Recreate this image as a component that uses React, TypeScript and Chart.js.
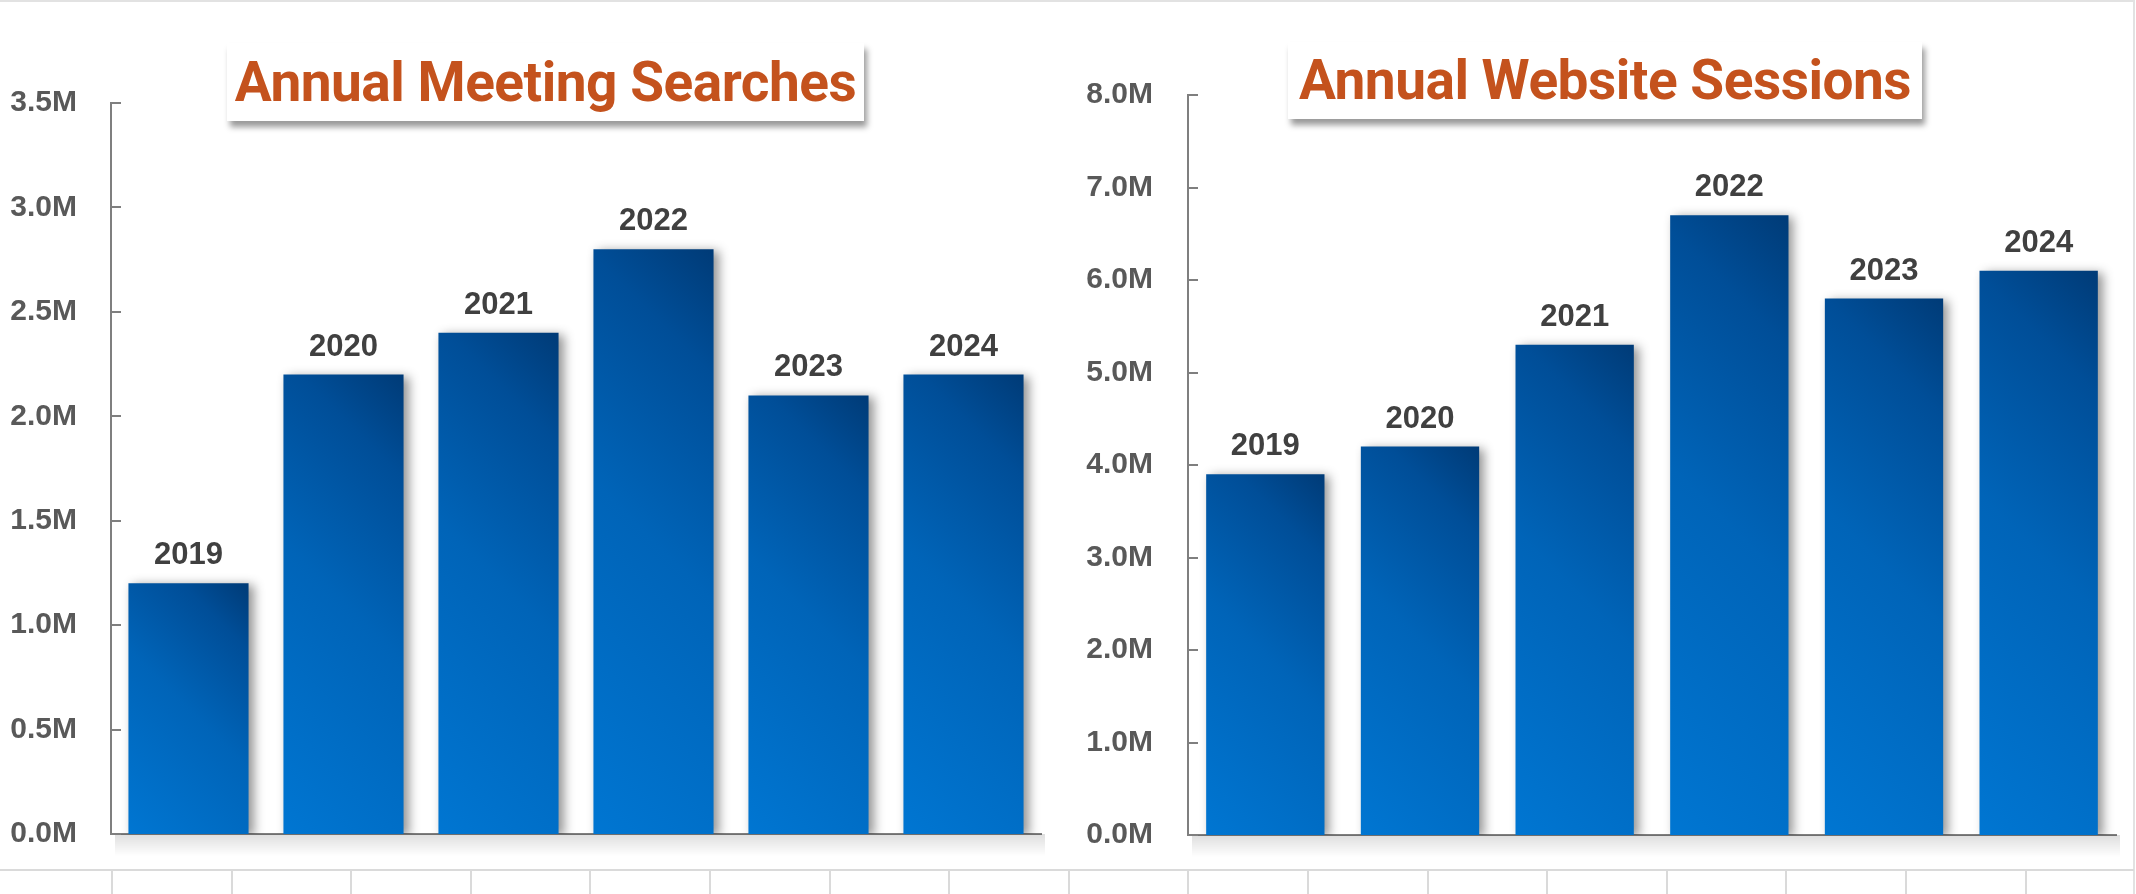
import React, { useEffect, useRef } from 'react';
import { Chart, registerables } from 'chart.js';

Chart.register(...registerables);

// ---------- data ----------
const years = ['2019', '2020', '2021', '2022', '2023', '2024'];
const meetingSearches = [1200000, 2200000, 2400000, 2800000, 2100000, 2200000];
const websiteSessions = [3900000, 4200000, 5300000, 6700000, 5800000, 6100000];
const meetingTickValues = [0, 500000, 1000000, 1500000, 2000000, 2500000, 3000000, 3500000];
const sessionTickValues = [0, 1000000, 2000000, 3000000, 4000000, 5000000, 6000000, 7000000, 8000000];
const meetingTitle = 'Annual Meeting Searches';
const sessionTitle = 'Annual Website Sessions';

const LABEL_FONT = '"Liberation Sans", Arial, Helvetica, sans-serif';
const TITLE_FONT = 'Roboto, "Liberation Sans", Arial, sans-serif';

type ChartSpec = {
  labels: string[];
  values: number[];
  tickValues: number[];
  width: number;
  height: number;
  yWidth: number;
  padTop: number;
  padRight: number;
  padBottom: number;
  barPct: number;
  tickPad: number;
};

const fmtM = (v: number) => (v / 1000000).toFixed(1) + 'M';

function barGradient(ctx: any, spec: ChartSpec) {
  const chart = ctx.chart;
  const { chartArea, scales } = chart;
  if (!chartArea || ctx.type !== 'data' || !scales.x || !scales.y) return '#0063B5';
  const xs = scales.x;
  const ys = scales.y;
  const cx = xs.getPixelForValue(ctx.dataIndex);
  const w = (xs.width / spec.labels.length) * spec.barPct;
  const x0 = cx - w / 2;
  const yBase = ys.getPixelForValue(0);
  const yTop = ys.getPixelForValue(ctx.raw);
  const h = yBase - yTop;
  const d = (w + h) / 2;
  const g = chart.ctx.createLinearGradient(x0, yBase, x0 + d, yBase - d);
  g.addColorStop(0, '#0076D2');
  g.addColorStop(0.5, '#0064B8');
  g.addColorStop(0.82, '#004E98');
  g.addColorStop(1, '#003B77');
  return g;
}

const decorPlugin = {
  id: 'decor',
  beforeDatasetsDraw(chart: any) {
    const { ctx, chartArea } = chart;
    const g = ctx.createLinearGradient(0, chartArea.bottom, 0, chartArea.bottom + 22);
    g.addColorStop(0, 'rgba(0,0,0,0.13)');
    g.addColorStop(1, 'rgba(0,0,0,0)');
    ctx.save();
    ctx.fillStyle = g;
    ctx.fillRect(chartArea.left + 4, chartArea.bottom, chartArea.right - chartArea.left, 22);
    ctx.restore();
    ctx.save();
    ctx.shadowColor = 'rgba(0,0,0,0.42)';
    ctx.shadowBlur = 10;
    ctx.shadowOffsetX = 5;
    ctx.shadowOffsetY = 2;
  },
  afterDatasetsDraw(chart: any) {
    const { ctx } = chart;
    ctx.restore();
    const meta = chart.getDatasetMeta(0);
    const labels = chart.data.labels as string[];
    ctx.save();
    ctx.font = `bold 31px ${LABEL_FONT}`;
    ctx.fillStyle = '#404040';
    ctx.textAlign = 'center';
    ctx.textBaseline = 'alphabetic';
    meta.data.forEach((bar: any, i: number) => {
      ctx.fillText(labels[i], bar.x, bar.y - 19);
    });
    ctx.restore();
  },
  afterDraw(chart: any) {
    const { ctx, chartArea } = chart;
    const ys = chart.scales.y;
    ctx.save();
    ctx.strokeStyle = '#7F7F7F';
    ctx.lineWidth = 2;
    ys.ticks.forEach((t: any) => {
      const y = Math.round(ys.getPixelForValue(t.value));
      ctx.beginPath();
      ctx.moveTo(chartArea.left, y);
      ctx.lineTo(chartArea.left + 10, y);
      ctx.stroke();
    });
    ctx.restore();
  },
};

function BarChart({ spec, left }: { spec: ChartSpec; left: number }) {
  const ref = useRef<HTMLCanvasElement | null>(null);
  useEffect(() => {
    if (!ref.current) return;
    const chart = new Chart(ref.current, {
      type: 'bar',
      data: {
        labels: spec.labels,
        datasets: [
          {
            data: spec.values,
            backgroundColor: (c: any) => barGradient(c, spec),
            borderWidth: 0,
            barPercentage: spec.barPct,
            categoryPercentage: 1,
          },
        ],
      },
      options: {
        responsive: false,
        animation: false,
        devicePixelRatio: 1,
        layout: { padding: { left: 0, top: spec.padTop, right: spec.padRight, bottom: spec.padBottom } },
        plugins: { legend: { display: false }, tooltip: { enabled: false }, title: { display: false } },
        scales: {
          x: {
            display: true,
            grid: { display: false, drawTicks: false },
            ticks: { display: false },
            border: { display: true, color: '#7F7F7F', width: 2 },
          },
          y: {
            min: spec.tickValues[0],
            max: spec.tickValues[spec.tickValues.length - 1],
            afterBuildTicks: (s: any) => {
              s.ticks = spec.tickValues.map((v) => ({ value: v }));
            },
            afterFit: (s: any) => {
              s.width = spec.yWidth;
              s.paddingTop = 0;
              s.paddingBottom = 0;
            },
            grid: { display: false, drawTicks: false },
            border: { display: true, color: '#7F7F7F', width: 2 },
            ticks: {
              padding: spec.tickPad,
              color: '#595959',
              font: { family: LABEL_FONT, size: 30, weight: 'bold' },
              callback: (v: any) => fmtM(Number(v)),
            },
          },
        },
      },
      plugins: [decorPlugin],
    } as any);
    return () => chart.destroy();
  }, [spec]);
  return (
    <canvas
      ref={ref}
      width={spec.width}
      height={spec.height}
      style={{ position: 'absolute', left, top: 0, width: spec.width, height: spec.height }}
    />
  );
}

const leftSpec: ChartSpec = {
  labels: years,
  values: meetingSearches,
  tickValues: meetingTickValues,
  width: 1068,
  height: 868,
  yWidth: 111,
  padTop: 103,
  padRight: 27,
  padBottom: 34,
  barPct: 0.775,
  tickPad: 34,
};

const rightSpec: ChartSpec = {
  labels: years,
  values: websiteSessions,
  tickValues: sessionTickValues,
  width: 1066,
  height: 868,
  yWidth: 120,
  padTop: 95,
  padRight: 18,
  padBottom: 33,
  barPct: 0.765,
  tickPad: 35,
};

function TitleBox({ text, left, top, width, height }: { text: string; left: number; top: number; width: number; height: number }) {
  return (
    <div
      style={{
        position: 'absolute',
        left,
        top,
        width,
        height,
        background: '#ffffff',
        boxShadow: '3px 6px 6px rgba(0,0,0,0.40)',
        display: 'flex',
        alignItems: 'center',
        justifyContent: 'center',
        fontFamily: TITLE_FONT,
        fontWeight: 700,
        fontSize: 55,
        letterSpacing: '-0.5px',
        color: '#C4521D',
        whiteSpace: 'nowrap',
        lineHeight: 1,
      }}
    >
      {text}
    </div>
  );
}

const gridCols = Array.from({ length: 17 }, (_, k) => k);

export default function App() {
  return (
    <div
      style={{
        position: 'fixed',
        left: 0,
        top: 0,
        width: 2136,
        height: 894,
        background: '#ffffff',
        overflow: 'hidden',
      }}
    >
      <div style={{ position: 'absolute', left: 0, top: 0, width: 2134, height: 2, background: '#E2E2E2' }} />
      <div style={{ position: 'absolute', left: 2133, top: 0, width: 2, height: 894, background: '#E2E2E2' }} />
      <div style={{ position: 'absolute', left: 0, top: 869, width: 2134, height: 2, background: '#DADADA' }} />
      {gridCols.map((k) => (
        <div
          key={k}
          style={{ position: 'absolute', left: Math.round(111 + k * 119.6), top: 870, width: 2, height: 24, background: '#DADADA' }}
        />
      ))}
      <BarChart spec={leftSpec} left={0} />
      <BarChart spec={rightSpec} left={1068} />
      <TitleBox text={meetingTitle} left={227} top={43} width={637} height={78} />
      <TitleBox text={sessionTitle} left={1288} top={42} width={634} height={77} />
    </div>
  );
}
